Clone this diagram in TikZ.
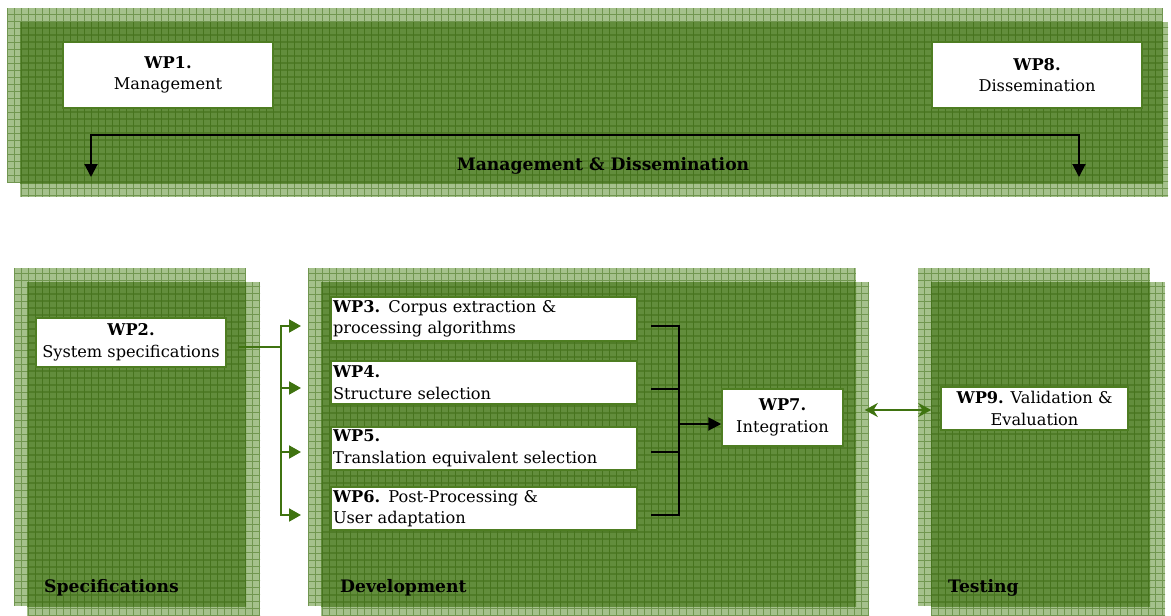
\documentclass[tikz,border=0pt]{standalone}
\usepackage{fontspec}
\setmainfont{DejaVu Serif}
\usetikzlibrary{arrows.meta,calc}

\definecolor{panellight}{HTML}{A5C18C}
\definecolor{paneldark}{HTML}{628D3C}
\definecolor{gridgreen}{HTML}{3F6D16}
\definecolor{boxline}{HTML}{4E7D22}
\definecolor{arrowgreen}{HTML}{3F7310}

\tikzset{
  gridline/.style={draw=gridgreen, draw opacity=0.5, line width=0.7pt, step=7pt},
  wpbox/.style={draw=boxline, line width=1.5pt, fill=white, inner sep=2pt,
    font=\fontsize{16.2}{21.5}\selectfont},
  panellabel/.style={font=\fontsize{17.2}{20}\selectfont\bfseries, inner sep=0pt},
  bline/.style={draw=black, line width=2pt},
  barrow/.style={bline, -{Triangle[length=13pt,width=13pt]}},
  gline/.style={draw=arrowgreen, line width=2pt},
  garrow/.style={gline, -{Triangle[length=12pt,width=13pt]}},
  gdarrow/.style={gline, {Stealth[length=13pt,width=14pt]}-{Stealth[length=13pt,width=14pt]}},
}

% Two offset, grid-textured green rectangles; their overlap is darker.
% #1,#2 - #3,#4 : back rectangle;  #5,#6 - #7,#8 : front rectangle
\newcommand\greenpanel[8]{%
  \fill[panellight] (#1,#2) rectangle (#3,#4);
  \fill[panellight] (#5,#6) rectangle (#7,#8);
  \begin{scope}
    \clip (#1,#2) rectangle (#3,#4);
    \fill[paneldark] (#5,#6) rectangle (#7,#8);
  \end{scope}
  \begin{scope}
    \clip (#1,#2) rectangle (#3,#4);
    \draw[gridline] (#1,#2) grid (#3,#4);
  \end{scope}
  \begin{scope}
    \clip (#5,#6) rectangle (#7,#8);
    \draw[gridline, shift={(0.5pt,0.5pt)}] (#5,#6) grid (#7,#8);
  \end{scope}
}

\begin{document}
\begin{tikzpicture}[x=1pt, y=-1pt]
\useasboundingbox (0,0) rectangle (1171,616);

% panels
\greenpanel{7}{8}{1163}{183}{20}{22}{1168}{197}
\greenpanel{14}{268}{246}{606}{27}{282}{260}{616}
\greenpanel{308}{268}{856}{606}{321}{282}{869}{616}
\greenpanel{918}{268}{1150}{606}{931}{282}{1165}{616}

% management & dissemination
\node[wpbox, minimum width=210pt, minimum height=66pt, align=center] (wp1) at (168,75)
  {\textbf{WP1.}\\Management};
\node[wpbox, minimum width=210pt, minimum height=66pt, align=center] (wp8) at (1037,75)
  {\textbf{WP8.}\\Dissemination};
\node[panellabel] (mdlabel) at (603,166) {Management \& Dissemination};
\coordinate (ml) at (91,177);
\coordinate (mr) at (1079,177);
\coordinate (mtop) at (585,135);
\draw[bline, {Triangle[length=13pt,width=13pt]}-{Triangle[length=13pt,width=13pt]}]
  (ml) |- (mtop) -| (mr);

% specifications
\node[wpbox, minimum width=190pt, minimum height=49pt, align=center] (wp2) at (131,342.5)
  {\textbf{WP2.}\\System specifications};
\node[panellabel, anchor=west] (speclabel) at (44,588) {Specifications};

% development
\node[wpbox, text width=302pt, minimum height=44pt, align=left] (wp3) at (484,319)
  {\textbf{WP3.} Corpus extraction \&\\processing algorithms};
\node[wpbox, text width=302pt, minimum height=43pt, align=left] (wp4) at (484,382.5)
  {\textbf{WP4.}\\Structure selection};
\node[wpbox, text width=302pt, minimum height=43pt, align=left] (wp5) at (484,448.5)
  {\textbf{WP5.}\\Translation equivalent selection};
\node[wpbox, text width=302pt, minimum height=43pt, align=left] (wp6) at (484,508.5)
  {\textbf{WP6.} Post-Processing \&\\User adaptation};
\node[wpbox, minimum width=121pt, minimum height=57pt, align=center] (wp7) at (782.5,417.5)
  {\textbf{WP7.}\\Integration};
\node[panellabel, anchor=west] (devlabel) at (340,588) {Development};

% testing
\node[wpbox, minimum width=187pt, minimum height=43pt, align=center] (wp9) at (1034.5,408.5)
  {\textbf{WP9.} Validation \&\\Evaluation};
\node[panellabel, anchor=west] (testlabel) at (948,588) {Testing};

% fan-out from WP2
\coordinate (split) at (281,347);
\coordinate (in3) at (301,326);
\coordinate (in4) at (301,388);
\coordinate (in5) at (301,452);
\coordinate (in6) at (301,515);
\draw[gline, shorten <=12pt] (wp2.east |- split) -- (split);
\draw[garrow] (split) |- (in3);
\draw[garrow] (split) |- (in4);
\draw[garrow] (split) |- (in5);
\draw[garrow] (split) |- (in6);

% collector into WP7
\coordinate (bus) at (679,424);
\coordinate (out3) at (651,326);
\coordinate (out4) at (651,389);
\coordinate (out5) at (651,452);
\coordinate (out6) at (651,515);
\draw[bline] (out3) -| (bus);
\draw[bline] (out6) -| (bus);
\draw[bline] (out4) -- (out4 -| bus);
\draw[bline] (out5) -- (out5 -| bus);
\draw[barrow] (bus) -- (bus -| wp7.west);

% WP7 <-> WP9
\coordinate (link) at (0,410);
\draw[gdarrow, shorten <=21pt, shorten >=9pt] (wp7.east |- link) -- (wp9.west |- link);
\end{tikzpicture}
\end{document}
